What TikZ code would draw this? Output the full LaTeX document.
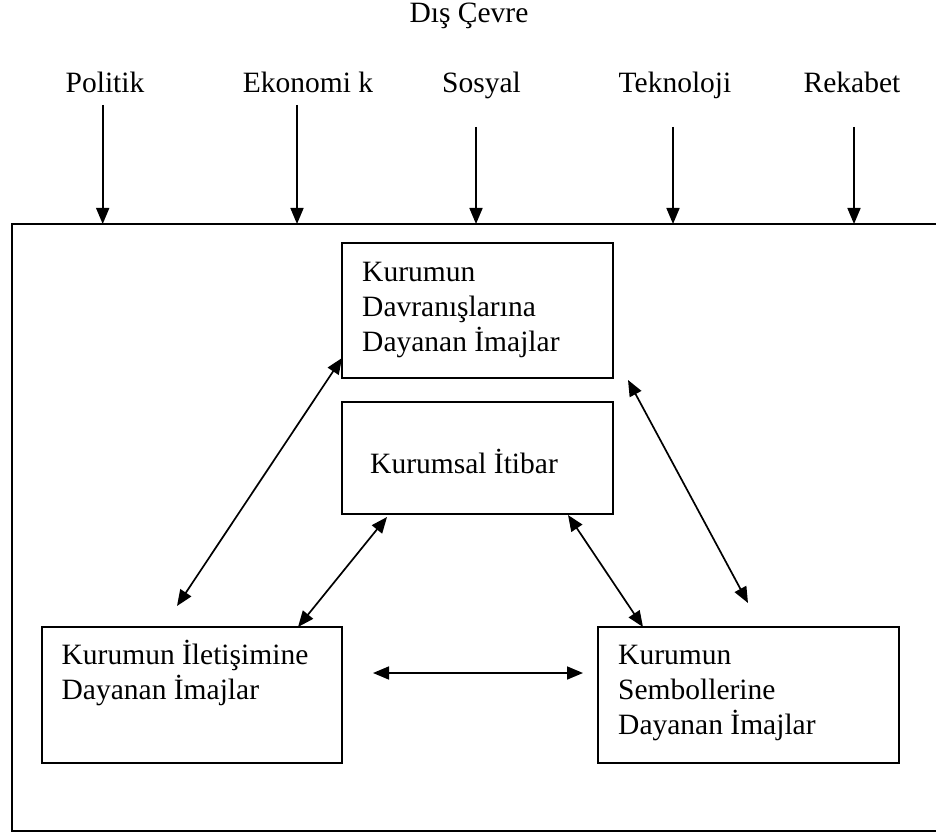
\documentclass[tikz,border=0pt]{standalone}
\usepackage{fontspec}
\setmainfont{Liberation Serif}
\usetikzlibrary{arrows.meta,calc}

\tikzset{
  frame/.style={draw, line width=1.9pt, rectangle, inner sep=0pt, outer sep=0pt},
  imgbox/.style={draw, line width=1.9pt, rectangle, inner sep=0pt, outer sep=0pt},
  lbl/.style={inner sep=0pt, anchor=base},
  boxtext/.style={inner sep=0pt, anchor=base west},
  tip/.style={Triangle[length=16pt,width=13pt]},
  force/.style={line width=1.7pt, -{Triangle[length=16pt,width=13pt]}},
  link/.style={line width=1.7pt, {Triangle[length=16pt,width=13pt]}-{Triangle[length=16pt,width=13pt]}}
}

\newcommand{\txtlines}[1]{\begin{tabular}[t]{@{}l@{}}#1\end{tabular}}

\begin{document}
\begin{tikzpicture}[x=1pt, y=-1pt, font=\fontsize{29.5}{35}\selectfont]
  \useasboundingbox (0,0) rectangle (936,834);

  % environment frame (right side runs past the page edge)
  \node[frame, minimum width=960pt, minimum height=607pt, anchor=north west] (env) at (12,224) {};

  % heading and external factors
  \node[lbl] (dis) at (469,22.7) {Dış Çevre};
  \node[lbl] (pol) at (105,93) {Politik};
  \node[lbl] (eko) at (308,93) {Ekonomi k};
  \node[lbl] (sos) at (481.5,93) {Sosyal};
  \node[lbl] (tek) at (675,93) {Teknoloji};
  \node[lbl] (rek) at (852,93) {Rekabet};

  \coordinate (polS) at (102.7,105);
  \coordinate (ekoS) at (297,105);
  \coordinate (sosS) at (476,127);
  \coordinate (tekS) at (673,127);
  \coordinate (rekS) at (854,127);

  \foreach \s in {polS,ekoS,sosS,tekS,rekS}
    \draw[force] (\s) -- (\s |- env.north);

  % image boxes
  \node[imgbox, minimum width=271pt, minimum height=135pt] (davr) at (477.5,310.5) {};
  \node[imgbox, minimum width=271pt, minimum height=112pt] (itibar) at (477.5,458) {};
  \node[imgbox, minimum width=300pt, minimum height=136pt] (ilet) at (192,695) {};
  \node[imgbox, minimum width=301pt, minimum height=136pt] (semb) at (748.5,695) {};

  \node[boxtext] (davrT) at (362,281) {\txtlines{Kurumun\\Davranışlarına\\Dayanan İmajlar}};
  \node[boxtext] (itibarT) at (370,473) {Kurumsal İtibar};
  \node[boxtext] (iletT) at (61.5,664) {\txtlines{Kurumun İletişimine\\Dayanan İmajlar}};
  \node[boxtext] (sembT) at (618,664) {\txtlines{Kurumun\\Sembollerine\\Dayanan İmajlar}};

  % relations between the images
  \draw[link] ($(davr.south west)+(0,-20)$) -- ($(ilet.north west)+(135,-21)$);
  \draw[link] ($(itibar.south west)+(45,3)$) -- ($(ilet.north east)+(-44,0)$);
  \draw[link] ($(itibar.south east)+(-45,1)$) -- ($(semb.north west)+(45,0)$);
  \draw[link] ($(davr.south east)+(15,2)$) -- ($(semb.north west)+(150,-24)$);
  \draw[link] ($(ilet.east)+(31,-22)$) -- ($(semb.west)+(-15,-22)$);
\end{tikzpicture}
\end{document}
